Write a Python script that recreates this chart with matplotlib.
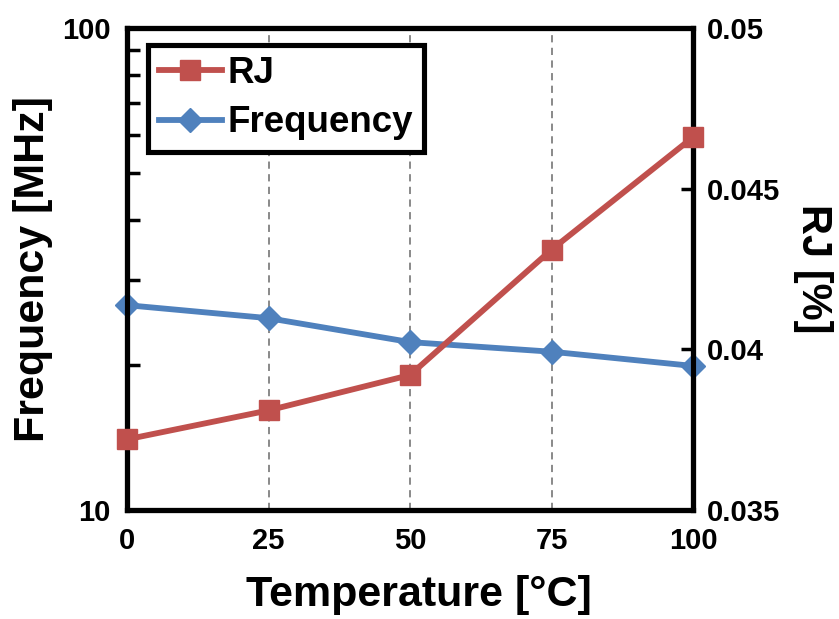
import matplotlib
matplotlib.use("Agg")
import matplotlib.pyplot as plt
from matplotlib.ticker import FixedLocator, NullFormatter, FixedFormatter

plt.rcParams['font.family'] = ['Liberation Sans', 'DejaVu Sans']
plt.rcParams['font.weight'] = 'bold'

temperature = [0, 25, 50, 75, 100]
frequency_mhz = [26.6, 25.0, 22.3, 21.3, 19.9]
rj_percent = [0.0372, 0.0381, 0.0392, 0.0431, 0.0466]

x_ticks = [0, 25, 50, 75, 100]
left_ticks = [10, 100]
left_minor = [20, 30, 40, 50, 60, 70, 80, 90]
right_ticks = [0.035, 0.04, 0.045, 0.05]
right_labels = ['0.035', '0.04', '0.045', '0.05']

RED = '#C0504D'
BLUE = '#4F81BD'

fig = plt.figure(figsize=(8.39, 6.19), dpi=100)
ax1 = fig.add_axes([0.1514, 0.176, 0.6746, 0.779])
ax2 = ax1.twinx()

ax1.set_yscale('log')
ax1.set_ylim(10, 100)
ax1.set_xlim(0, 100)
ax2.set_ylim(0.035, 0.05)

for xv in x_ticks[1:-1]:
    ax1.axvline(xv, color='#808080', linestyle=(0, (4, 3)), linewidth=1.3, zorder=0)

l_freq, = ax1.plot(temperature, frequency_mhz, color=BLUE, linewidth=4.2,
                   marker='D', markersize=12, clip_on=False, zorder=3, label='Frequency')
l_rj, = ax2.plot(temperature, rj_percent, color=RED, linewidth=4.2,
                 marker='s', markersize=14, clip_on=False, zorder=3, label='RJ')

ax1.set_xticks(x_ticks)
ax1.yaxis.set_major_locator(FixedLocator(left_ticks))
ax1.yaxis.set_minor_locator(FixedLocator(left_minor))
ax1.yaxis.set_minor_formatter(NullFormatter())
ax1.set_yticklabels([str(v) for v in left_ticks])

ax2.yaxis.set_major_locator(FixedLocator(right_ticks))
ax2.yaxis.set_major_formatter(FixedFormatter(right_labels))

ax1.tick_params(axis='x', length=0, pad=12, labelsize=21)
ax1.tick_params(axis='y', which='both', direction='in', length=9, width=2.5, pad=12, labelsize=21)
ax2.tick_params(axis='y', direction='in', length=9, width=2.5, pad=10, labelsize=21)

for ax in (ax1, ax2):
    for s in ax.spines.values():
        s.set_linewidth(3.7)

ax1.set_xlabel('Temperature [°C]', fontsize=31, fontweight='bold', labelpad=16)
ax1.xaxis.set_label_coords(0.516, -0.135)
ax1.set_ylabel('Frequency [MHz]', fontsize=31, fontweight='bold', labelpad=6)
ax2.set_ylabel('RJ [%]', fontsize=30, fontweight='bold', rotation=270, labelpad=38)

leg = ax2.legend(handles=[l_rj, l_freq], loc='upper left', bbox_to_anchor=(0.037, 0.965),
                 fontsize=26.5, frameon=True, fancybox=False, framealpha=1,
                 edgecolor='black', handlelength=1.7, handletextpad=0.15,
                 borderpad=0.3, labelspacing=0.4, borderaxespad=0)
leg.get_frame().set_linewidth(3.7)
for t in leg.get_texts():
    t.set_fontweight('bold')

fig.savefig('out.png', dpi=100)
